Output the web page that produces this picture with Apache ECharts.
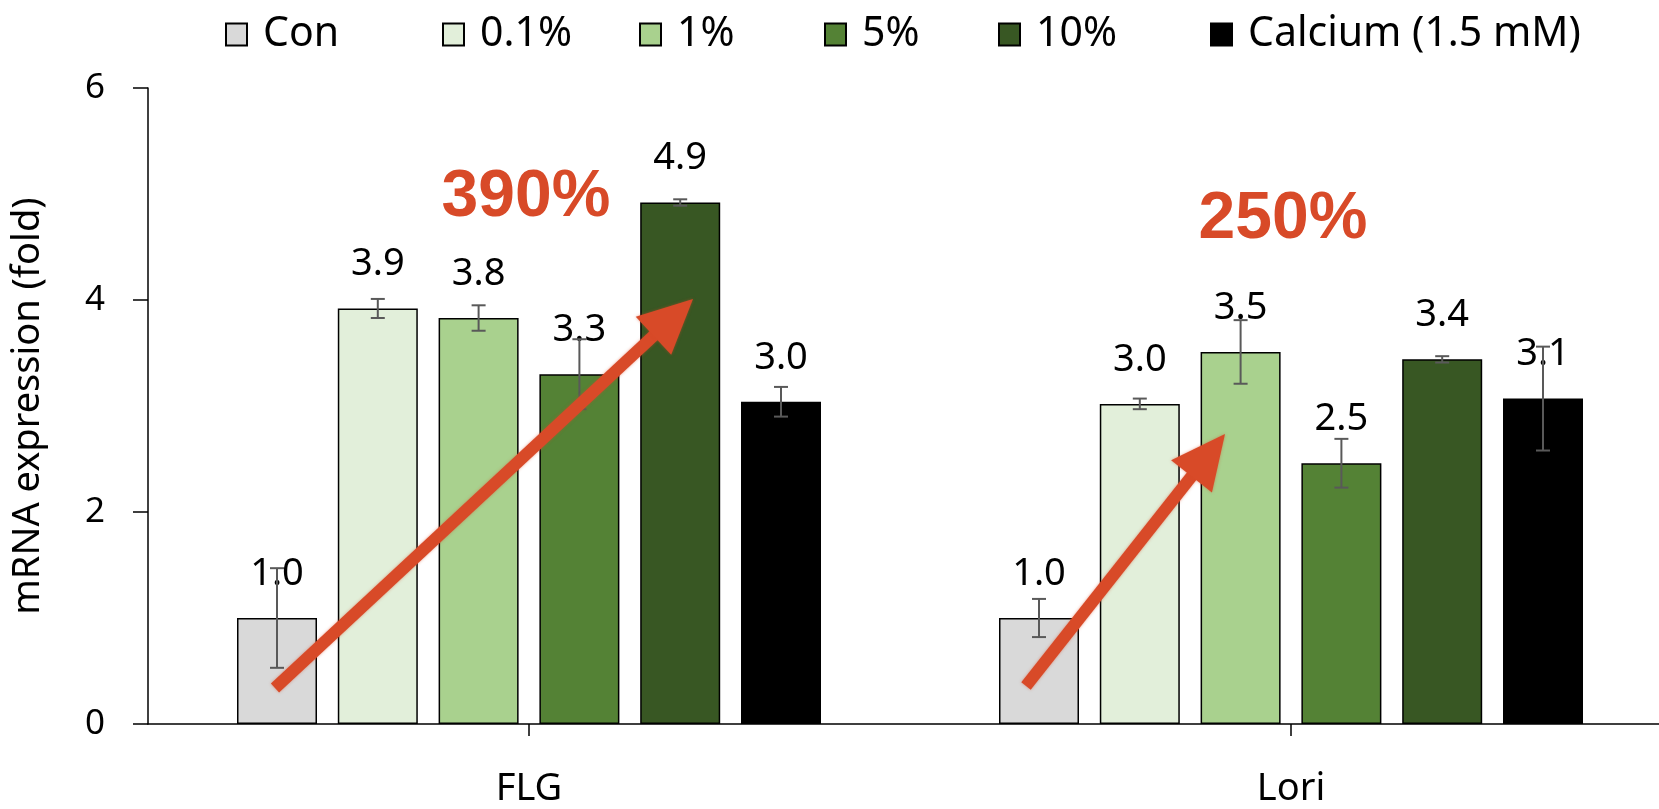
<!DOCTYPE html>
<html>
<head>
<meta charset="utf-8">
<script src="https://cdn.jsdelivr.net/npm/echarts@6/dist/echarts.min.js"></script>
<style>
    html, body { margin: 0; padding: 0; background: #fff; overflow: hidden; }
    /* a little wider than the window so the x axis runs off the right edge */
    #main { width: 1672px; height: 809px; }
</style>
</head>
<body>
<div id="main"></div>
<script>
// genes on the x axis
var categories = ['FLG', 'Lori'];
// treatment groups
var groupNames = ['Con', '0.1%', '1%', '5%', '10%', 'Calcium (1.5 mM)'];
var groupColors = ['#d9d9d9', '#e2efda', '#a9d18e', '#548235', '#385723', '#000000'];

// fold values (FLG, Lori)
var conVals = [1.0, 1.0];
var p01Vals = [3.92, 3.02];
var p1Vals = [3.83, 3.51];
var p5Vals = [3.30, 2.46];
var p10Vals = [4.92, 3.44];
var caVals = [3.04, 3.07];

// error (+/-)
var conErr = [0.47, 0.18];
var p01Err = [0.09, 0.05];
var p1Err = [0.12, 0.30];
var p5Err = [0.33, 0.23];
var p10Err = [0.03, 0.03];
var caErr = [0.14, 0.49];

var yTicks = [0, 2, 4, 6];

var allVals = [conVals, p01Vals, p1Vals, p5Vals, p10Vals, caVals];
var allErr = [conErr, p01Err, p1Err, p5Err, p10Err, caErr];

var legendLeft = [225, 442, 639, 824, 998, 1210];

var BAR_W = 80;
var BAR_GAP = 0.26;
var STEP = BAR_W * (1 + BAR_GAP);

var chart = echarts.init(document.getElementById('main'));

function errRender(k) {
    return function (params, api) {
        var c = api.coord([api.value(0), api.value(1)]);
        var c2 = api.coord([api.value(0), api.value(2)]);
        var x = c[0] + (k - 2.5) * STEP;
        var cap = 7;
        var st = { stroke: '#595959', lineWidth: 2 };
        return {
            type: 'group',
            children: [
                { type: 'line', shape: { x1: x, y1: c[1], x2: x, y2: c2[1] }, style: st },
                { type: 'line', shape: { x1: x - cap, y1: c[1], x2: x + cap, y2: c[1] }, style: st },
                { type: 'line', shape: { x1: x - cap, y1: c2[1], x2: x + cap, y2: c2[1] }, style: st }
            ]
        };
    };
}

var series = [];
for (var i = 0; i < groupNames.length; i++) {
    series.push({
        name: groupNames[i],
        type: 'bar',
        barWidth: BAR_W,
        barGap: (BAR_GAP * 100) + '%',
        z: 2,
        itemStyle: { color: groupColors[i], borderColor: '#000', borderWidth: 1.5 },
        label: {
            show: true,
            position: 'top',
            distance: 25,
            fontSize: 38,
            fontFamily: 'Noto Sans',
            color: '#000',
            formatter: function (p) { return p.value.toFixed(1); }
        },
        data: allVals[i]
    });
}
for (var k = 0; k < groupNames.length; k++) {
    var ed = [];
    for (var j = 0; j < categories.length; j++) {
        ed.push([j, allVals[k][j] - allErr[k][j], allVals[k][j] + allErr[k][j]]);
    }
    series.push({
        type: 'custom',
        z: 5,
        silent: true,
        renderItem: errRender(k),
        data: ed
    });
}

var legends = [];
for (var m = 0; m < groupNames.length; m++) {
    legends.push({
        data: [groupNames[m]],
        left: legendLeft[m],
        top: 14,
        padding: 0,
        itemWidth: 21,
        itemHeight: 22,
        icon: 'rect',
        textStyle: { fontSize: 41, fontFamily: 'Noto Sans', color: '#000', padding: [0, 0, 0, 11] }
    });
}

// arrow annotation: shaft + head
function arrow(x1, y1, x2, y2) {
    var ang = Math.atan2(y2 - y1, x2 - x1);
    var hl = 54, hw = 26;
    var bx = x2 - hl * Math.cos(ang), by = y2 - hl * Math.sin(ang);
    var nx = -Math.sin(ang), ny = Math.cos(ang);
    var col = '#d84a28';
    return [
        { type: 'line', z: 100, shape: { x1: x1, y1: y1, x2: bx + 4 * Math.cos(ang), y2: by + 4 * Math.sin(ang) },
          style: { stroke: col, lineWidth: 12, shadowBlur: 3, shadowColor: 'rgba(216,74,40,0.5)' } },
        { type: 'polygon', z: 100, shape: { points: [[x2, y2], [bx + nx * hw, by + ny * hw], [bx - nx * hw, by - ny * hw]] },
          style: { fill: col, shadowBlur: 3, shadowColor: 'rgba(216,74,40,0.5)' } }
    ];
}

var graphics = [].concat(
    arrow(275, 688, 693, 299),
    arrow(1026, 686, 1225, 434),
    [
        { type: 'text', z: 100, x: 526, y: 198, style: { text: '390%', fill: '#d84a28', font: 'bold 66px "Liberation Sans"', align: 'center', verticalAlign: 'middle' } },
        { type: 'text', z: 100, x: 1283, y: 220, style: { text: '250%', fill: '#d84a28', font: 'bold 66px "Liberation Sans"', align: 'center', verticalAlign: 'middle' } }
    ]
);

var option = {
    animation: false,
    backgroundColor: '#fff',
    legend: legends,
    grid: { left: 148, right: 0, top: 88, bottom: 85, containLabel: false },
    xAxis: {
        type: 'category',
        data: categories,
        axisLine: { lineStyle: { color: '#000', width: 1.5 } },
        axisTick: { show: true, alignWithLabel: true, length: 12, lineStyle: { color: '#000', width: 1.5 } },
        axisLabel: { fontSize: 38, fontFamily: 'Noto Sans', color: '#000', margin: 46 }
    },
    yAxis: {
        type: 'value',
        min: 0,
        max: 6,
        interval: 2,
        name: 'mRNA expression (fold)',
        nameLocation: 'middle',
        nameGap: 101,
        nameTextStyle: { fontSize: 38, fontFamily: 'Noto Sans', color: '#000' },
        axisLine: { show: true, lineStyle: { color: '#000', width: 1.5 } },
        axisTick: { show: true, length: 15, lineStyle: { color: '#000', width: 1.5 } },
        splitLine: { show: false },
        axisLabel: {
            fontSize: 35, fontFamily: 'Noto Sans', color: '#000', margin: 43,
            formatter: function (v) { return yTicks.indexOf(v) >= 0 ? String(v) : ''; }
        }
    },
    series: series,
    graphic: graphics
};
chart.setOption(option);
window.addEventListener('resize', function () { chart.resize(); });
</script>
</body>
</html>
